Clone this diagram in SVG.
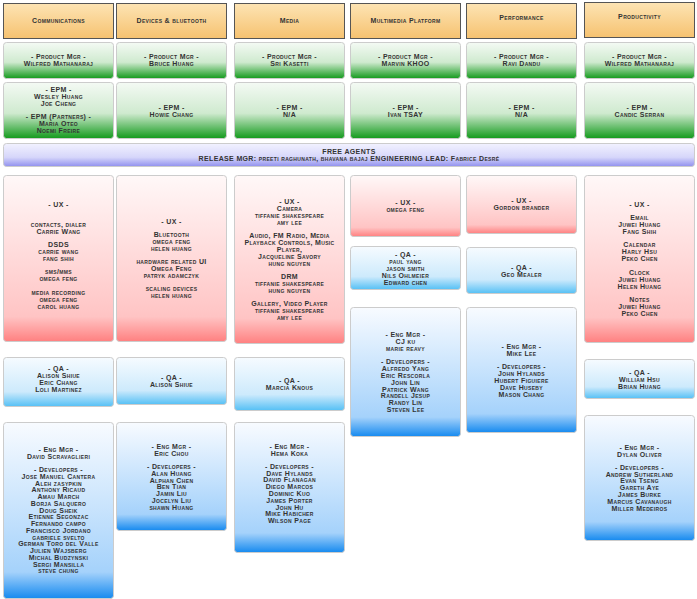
<svg xmlns="http://www.w3.org/2000/svg" width="697" height="599" viewBox="0 0 697 599">
<style>
.t{font-family:"Liberation Sans",Arial,sans-serif;font-weight:bold;font-size:7px;font-variant:small-caps;letter-spacing:0.35px;text-anchor:middle;fill:#333}
.hd{fill:url(#gH);stroke:#555;stroke-width:1}
.pm{fill:url(#gG);stroke:#ccc;stroke-width:1}
.ux{fill:url(#gR);stroke:#ccc;stroke-width:1}
.qa{fill:url(#gQ);stroke:#ccc;stroke-width:1}
.en{fill:url(#gB);stroke:#ccc;stroke-width:1}
.fa{fill:url(#gF);stroke:#ccc;stroke-width:1}
</style>
<defs>
<linearGradient id="gH" x1="0" y1="0" x2="0" y2="1"><stop offset="0" stop-color="#fde4b4"/><stop offset="1" stop-color="#f6c270"/></linearGradient>
<linearGradient id="gG" x1="0" y1="0" x2="0" y2="1"><stop offset="0" stop-color="#f4faf4"/><stop offset="0.55" stop-color="#cfeacf"/><stop offset="1" stop-color="#139a1c"/></linearGradient>
<linearGradient id="gR" x1="0" y1="0" x2="0" y2="1"><stop offset="0" stop-color="#fff8f8"/><stop offset="0.85" stop-color="#ffc4c4"/><stop offset="1" stop-color="#ff8080"/></linearGradient>
<linearGradient id="gQ" x1="0" y1="0" x2="0" y2="1"><stop offset="0" stop-color="#f6fbff"/><stop offset="0.7" stop-color="#cdeafc"/><stop offset="1" stop-color="#55c0f5"/></linearGradient>
<linearGradient id="gB" x1="0" y1="0" x2="0" y2="1"><stop offset="0" stop-color="#f8fbff"/><stop offset="0.85" stop-color="#a5d2fb"/><stop offset="1" stop-color="#168aef"/></linearGradient>
<linearGradient id="gF" x1="0" y1="0" x2="0" y2="1"><stop offset="0" stop-color="#f2f2ff"/><stop offset="0.6" stop-color="#d6d6fa"/><stop offset="1" stop-color="#9090ee"/></linearGradient>
</defs>
<rect width="697" height="599" fill="#fff"/>
<g id="connectors"></g>

<g id="h1"><rect class="hd" x="3.5" y="3.5" width="110" height="35"/><text class="t" x="58.5" y="23">Communications</text></g>
<g id="h2"><rect class="hd" x="116.5" y="3.5" width="110" height="35"/><text class="t" x="171.5" y="23">Devices &amp; bluetooth</text></g>
<g id="h3"><rect class="hd" x="234.5" y="3.5" width="110" height="35"/><text class="t" x="289.5" y="23">Media</text></g>
<g id="h4"><rect class="hd" x="350.5" y="3.5" width="110" height="35"/><text class="t" x="405.5" y="23">Multimedia Platform</text></g>
<g id="h5"><rect class="hd" x="466.5" y="3.5" width="110" height="35"/><text class="t" x="521.5" y="20">Performance</text></g>
<g id="h6"><rect class="hd" x="584.5" y="2.5" width="110" height="35"/><text class="t" x="639.5" y="19">Productivity</text></g>

<g id="pm1"><rect class="pm" x="3.5" y="42.5" width="110" height="36" rx="3"/><text class="t" y="59"><tspan x="58.5">- Product Mgr -</tspan><tspan x="58.5" dy="7">Wilfred Mathanaraj</tspan></text></g>
<g id="pm2"><rect class="pm" x="116.5" y="42.5" width="110" height="36" rx="3"/><text class="t" y="59"><tspan x="171.5">- Product Mgr -</tspan><tspan x="171.5" dy="7">Bruce Huang</tspan></text></g>
<g id="pm3"><rect class="pm" x="234.5" y="42.5" width="110" height="36" rx="3"/><text class="t" y="59"><tspan x="289.5">- Product Mgr -</tspan><tspan x="289.5" dy="7">Sri Kasetti</tspan></text></g>
<g id="pm4"><rect class="pm" x="350.5" y="42.5" width="110" height="36" rx="3"/><text class="t" y="59"><tspan x="405.5">- Product Mgr -</tspan><tspan x="405.5" dy="7">Marvin KHOO</tspan></text></g>
<g id="pm5"><rect class="pm" x="466.5" y="42.5" width="110" height="36" rx="3"/><text class="t" y="59"><tspan x="521.5">- Product Mgr -</tspan><tspan x="521.5" dy="7">Ravi Dandu</tspan></text></g>
<g id="pm6"><rect class="pm" x="584.5" y="42.5" width="110" height="36" rx="3"/><text class="t" y="59"><tspan x="639.5">- Product Mgr -</tspan><tspan x="639.5" dy="7">Wilfred Mathanaraj</tspan></text></g>

<g id="epm1"><rect class="pm" x="3.5" y="82.5" width="110" height="56" rx="3"/><text class="t" y="92"><tspan x="58.5">- EPM -</tspan><tspan x="58.5" dy="6.8">Wesley Huang</tspan><tspan x="58.5" dy="6.8">Joe Cheng</tspan><tspan x="58.5" dy="13.6">- EPM (Partners) -</tspan><tspan x="58.5" dy="6.8">Maria Oteo</tspan><tspan x="58.5" dy="6.8">Noemi Freire</tspan></text></g>
<g id="epm2"><rect class="pm" x="116.5" y="82.5" width="110" height="56" rx="3"/><text class="t" y="110"><tspan x="171.5">- EPM -</tspan><tspan x="171.5" dy="7">Howie Chang</tspan></text></g>
<g id="epm3"><rect class="pm" x="234.5" y="82.5" width="110" height="56" rx="3"/><text class="t" y="110"><tspan x="289.5">- EPM -</tspan><tspan x="289.5" dy="7">N/A</tspan></text></g>
<g id="epm4"><rect class="pm" x="350.5" y="82.5" width="110" height="56" rx="3"/><text class="t" y="110"><tspan x="405.5">- EPM -</tspan><tspan x="405.5" dy="7">Ivan TSAY</tspan></text></g>
<g id="epm5"><rect class="pm" x="466.5" y="82.5" width="110" height="56" rx="3"/><text class="t" y="110"><tspan x="521.5">- EPM -</tspan><tspan x="521.5" dy="7">N/A</tspan></text></g>
<g id="epm6"><rect class="pm" x="584.5" y="82.5" width="110" height="56" rx="3"/><text class="t" y="110"><tspan x="639.5">- EPM -</tspan><tspan x="639.5" dy="7">Candic Serran</tspan></text></g>

<g id="free"><rect class="fa" x="3.5" y="143.5" width="691" height="23" rx="3"/><text class="t" y="153.5"><tspan x="349">FREE AGENTS</tspan><tspan x="349" dy="7">RELEASE MGR: preeti raghunath, bhavana bajaj ENGINEERING LEAD: Fabrice Desré</tspan></text></g>

<g id="ux1"><rect class="ux" x="3.5" y="175.5" width="110" height="166" rx="3"/><text class="t" y="206.5"><tspan x="58.5">- UX -</tspan><tspan x="58.5" dy="20">contacts, dialer</tspan><tspan x="58.5" dy="7">Carrie Wang</tspan><tspan x="58.5" dy="13.4">DSDS</tspan><tspan x="58.5" dy="7">carrie wang</tspan><tspan x="58.5" dy="7">fang shih</tspan><tspan x="58.5" dy="13.4">sms/mms</tspan><tspan x="58.5" dy="7">omega feng</tspan><tspan x="58.5" dy="13.4">media recording</tspan><tspan x="58.5" dy="7">omega feng</tspan><tspan x="58.5" dy="7">carol huang</tspan></text></g>
<g id="ux2"><rect class="ux" x="116.5" y="175.5" width="110" height="166" rx="3"/><text class="t" y="224"><tspan x="171.5">- UX -</tspan><tspan x="171.5" dy="12.6">Bluetooth</tspan><tspan x="171.5" dy="7">omega feng</tspan><tspan x="171.5" dy="7">helen huang</tspan><tspan x="171.5" dy="13.4">hardware related UI</tspan><tspan x="171.5" dy="7">Omega Feng</tspan><tspan x="171.5" dy="7">patryk adamczyk</tspan><tspan x="171.5" dy="13.4">scaling devices</tspan><tspan x="171.5" dy="7">helen huang</tspan></text></g>
<g id="ux3"><rect class="ux" x="234.5" y="175.5" width="110" height="168" rx="3"/><text class="t" y="204"><tspan x="289.5">- UX -</tspan><tspan x="289.5" dy="7">Camera</tspan><tspan x="289.5" dy="7">tiffanie shakespeare</tspan><tspan x="289.5" dy="7">amy lee</tspan><tspan x="289.5" dy="13">Audio, FM Radio, Media</tspan><tspan x="289.5" dy="7">Playback Controls, Music</tspan><tspan x="289.5" dy="7">Player,</tspan><tspan x="289.5" dy="7">Jacqueline Savory</tspan><tspan x="289.5" dy="7">hung nguyen</tspan><tspan x="289.5" dy="12.8">DRM</tspan><tspan x="289.5" dy="7">tiffanie shakespeare</tspan><tspan x="289.5" dy="7">hung nguyen</tspan><tspan x="289.5" dy="13.3">Gallery, Video Player</tspan><tspan x="289.5" dy="7">tiffanie shakespeare</tspan><tspan x="289.5" dy="7">amy lee</tspan></text></g>
<g id="ux4"><rect class="ux" x="350.5" y="175.5" width="110" height="61" rx="3"/><text class="t" y="204.5"><tspan x="405.5">- UX -</tspan><tspan x="405.5" dy="7">omega feng</tspan></text></g>
<g id="ux5"><rect class="ux" x="466.5" y="175.5" width="110" height="58" rx="3"/><text class="t" y="203"><tspan x="521.5">- UX -</tspan><tspan x="521.5" dy="7">Gordon brander</tspan></text></g>
<g id="ux6"><rect class="ux" x="584.5" y="175.5" width="110" height="167" rx="3"/><text class="t" y="206.5"><tspan x="639.5">- UX -</tspan><tspan x="639.5" dy="13.4">Email</tspan><tspan x="639.5" dy="7">Juwei Huang</tspan><tspan x="639.5" dy="7">Fang Shih</tspan><tspan x="639.5" dy="13.3">Calendar</tspan><tspan x="639.5" dy="7">Harly Hsu</tspan><tspan x="639.5" dy="7">Peko Chen</tspan><tspan x="639.5" dy="13.3">Clock</tspan><tspan x="639.5" dy="7">Juwei Huang</tspan><tspan x="639.5" dy="7">Helen Huang</tspan><tspan x="639.5" dy="13.3">Notes</tspan><tspan x="639.5" dy="7">Juwei Huang</tspan><tspan x="639.5" dy="7">Peko Chen</tspan></text></g>

<g id="qa1"><rect class="qa" x="3.5" y="357.5" width="110" height="49" rx="3"/><text class="t" y="371"><tspan x="58.5">- QA -</tspan><tspan x="58.5" dy="7">Alison Shiue</tspan><tspan x="58.5" dy="7">Eric Chang</tspan><tspan x="58.5" dy="7">Loli Martinez</tspan></text></g>
<g id="qa2"><rect class="qa" x="116.5" y="357.5" width="110" height="47" rx="3"/><text class="t" y="380"><tspan x="171.5">- QA -</tspan><tspan x="171.5" dy="7">Alison Shiue</tspan></text></g>
<g id="qa3"><rect class="qa" x="234.5" y="357.5" width="110" height="53" rx="3"/><text class="t" y="383"><tspan x="289.5">- QA -</tspan><tspan x="289.5" dy="7">Marcia Knous</tspan></text></g>
<g id="qa4"><rect class="qa" x="350.5" y="246.5" width="110" height="43" rx="3"/><text class="t" y="256.5"><tspan x="405.5">- QA -</tspan><tspan x="405.5" dy="7">paul yang</tspan><tspan x="405.5" dy="7">jason smith</tspan><tspan x="405.5" dy="7">Nils Ohlmeier</tspan><tspan x="405.5" dy="7">Edward chen</tspan></text></g>
<g id="qa5"><rect class="qa" x="466.5" y="247.5" width="110" height="46" rx="3"/><text class="t" y="269.5"><tspan x="521.5">- QA -</tspan><tspan x="521.5" dy="7">Geo Mealer</tspan></text></g>
<g id="qa6"><rect class="qa" x="584.5" y="359.5" width="110" height="39" rx="3"/><text class="t" y="374.5"><tspan x="639.5">- QA -</tspan><tspan x="639.5" dy="7">William Hsu</tspan><tspan x="639.5" dy="7">Brian Huang</tspan></text></g>

<g id="eng1"><rect class="en" x="3.5" y="422.5" width="110" height="176" rx="3"/><text class="t" y="451.5"><tspan x="58.5">- Eng Mgr -</tspan><tspan x="58.5" dy="7">David Scravaglieri</tspan><tspan x="58.5" dy="13.4">- Developers -</tspan><tspan x="58.5" dy="7">Jose Manuel Cantera</tspan><tspan x="58.5" dy="6.75">Aleh zasypkin</tspan><tspan x="58.5" dy="6.75">Anthony Ricaud</tspan><tspan x="58.5" dy="6.75">Amau March</tspan><tspan x="58.5" dy="6.75">Borja Salquero</tspan><tspan x="58.5" dy="6.75">Doug Sheik</tspan><tspan x="58.5" dy="6.75">Etienne Segonzac</tspan><tspan x="58.5" dy="6.75">Fernando campo</tspan><tspan x="58.5" dy="6.75">Francisco Jordano</tspan><tspan x="58.5" dy="6.75">gabriele svelto</tspan><tspan x="58.5" dy="6.75">German Toro del Valle</tspan><tspan x="58.5" dy="6.75">Julien Wajsberg</tspan><tspan x="58.5" dy="6.75">Michal Budzynski</tspan><tspan x="58.5" dy="6.75">Sergi Mansilla</tspan><tspan x="58.5" dy="6.75">steve chung</tspan></text></g>
<g id="eng2"><rect class="en" x="116.5" y="422.5" width="110" height="108" rx="3"/><text class="t" y="448.5"><tspan x="171.5">- Eng Mgr -</tspan><tspan x="171.5" dy="7">Eric Chou</tspan><tspan x="171.5" dy="13.4">- Developers -</tspan><tspan x="171.5" dy="6.8">Alan Huang</tspan><tspan x="171.5" dy="6.8">Alphan Chen</tspan><tspan x="171.5" dy="6.8">Ben Tian</tspan><tspan x="171.5" dy="6.8">Jamin Liu</tspan><tspan x="171.5" dy="6.8">Jocelyn Liu</tspan><tspan x="171.5" dy="6.8">shawn Huang</tspan></text></g>
<g id="eng3"><rect class="en" x="234.5" y="422.5" width="110" height="130" rx="3"/><text class="t" y="448.7"><tspan x="289.5">- Eng Mgr -</tspan><tspan x="289.5" dy="7">Hema Koka</tspan><tspan x="289.5" dy="13">- Developers -</tspan><tspan x="289.5" dy="6.8">Dave Hylands</tspan><tspan x="289.5" dy="6.8">David Flanagan</tspan><tspan x="289.5" dy="6.8">Diego Marcos</tspan><tspan x="289.5" dy="6.8">Dominic Kuo</tspan><tspan x="289.5" dy="6.8">James Porter</tspan><tspan x="289.5" dy="6.8">John Hu</tspan><tspan x="289.5" dy="6.8">Mike Habicher</tspan><tspan x="289.5" dy="6.8">Wilson Page</tspan></text></g>
<g id="eng4"><rect class="en" x="350.5" y="307.5" width="110" height="129" rx="3"/><text class="t" y="336.7"><tspan x="405.5">- Eng Mgr -</tspan><tspan x="405.5" dy="7">CJ ku</tspan><tspan x="405.5" dy="7">marie reavy</tspan><tspan x="405.5" dy="13.6">- Developers -</tspan><tspan x="405.5" dy="6.8">Alfredo Yang</tspan><tspan x="405.5" dy="6.8">Eric Rescorla</tspan><tspan x="405.5" dy="6.8">John Lin</tspan><tspan x="405.5" dy="6.8">Patrick Wang</tspan><tspan x="405.5" dy="6.8">Randell Jesup</tspan><tspan x="405.5" dy="6.8">Randy Lin</tspan><tspan x="405.5" dy="6.8">Steven Lee</tspan></text></g>
<g id="eng5"><rect class="en" x="466.5" y="307.5" width="110" height="125" rx="3"/><text class="t" y="348.7"><tspan x="521.5">- Eng Mgr -</tspan><tspan x="521.5" dy="7">Mike Lee</tspan><tspan x="521.5" dy="13.6">- Developers -</tspan><tspan x="521.5" dy="6.8">John Hylands</tspan><tspan x="521.5" dy="6.8">Hubert Figuiere</tspan><tspan x="521.5" dy="6.8">Dave Huseby</tspan><tspan x="521.5" dy="6.8">Mason Chang</tspan></text></g>
<g id="eng6"><rect class="en" x="584.5" y="415.5" width="110" height="125" rx="3"/><text class="t" y="449.7"><tspan x="639.5">- Eng Mgr -</tspan><tspan x="639.5" dy="7">Dylan Oliver</tspan><tspan x="639.5" dy="13">- Developers -</tspan><tspan x="639.5" dy="6.8">Andrew Sutherland</tspan><tspan x="639.5" dy="6.8">Evan Tseng</tspan><tspan x="639.5" dy="6.8">Gareth Aye</tspan><tspan x="639.5" dy="6.8">James Burke</tspan><tspan x="639.5" dy="6.8">Marcus Cavanaugh</tspan><tspan x="639.5" dy="6.8">Miller Medeiros</tspan></text></g>
</svg>
